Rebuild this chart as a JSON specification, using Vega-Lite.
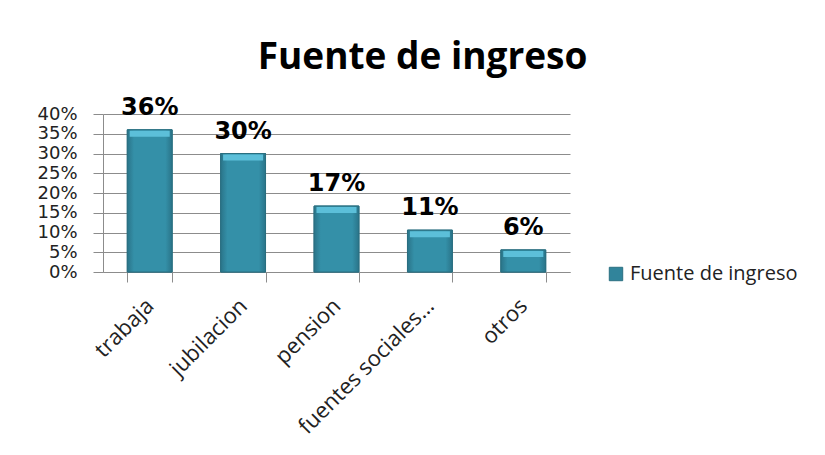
{
  "$schema": "https://vega.github.io/schema/vega-lite/v6.json",
  "width": 467,
  "height": 158,
  "autosize": {"type": "none"},
  "padding": {"left": 103, "top": 114, "right": 255, "bottom": 183},
  "background": "white",
  "title": {
    "text": "Fuente de ingreso",
    "font": "Open Sans",
    "fontSize": 37,
    "fontWeight": "bold",
    "color": "#000000",
    "anchor": "middle",
    "frame": "group",
    "dx": 86,
    "baseline": "alphabetic",
    "offset": -10
  },
  "data": {
    "values": [
      {"categoria": "trabaja", "valor": 0.36},
      {"categoria": "jubilacion", "valor": 0.30},
      {"categoria": "pension", "valor": 0.167},
      {"categoria": "fuentes sociales…", "valor": 0.106},
      {"categoria": "otros", "valor": 0.056}
    ]
  },
  "encoding": {
    "x": {
      "field": "categoria",
      "type": "nominal",
      "sort": null,
      "scale": {"paddingInner": 0.52, "paddingOuter": 0.26},
      "axis": {
        "title": null,
        "labelAngle": -45,
        "labelAlign": "right",
        "labelBaseline": "middle",
        "labelFont": "Open Sans",
        "labelFontSize": 22,
        "labelColor": "#222222",
        "labelPadding": 20,
        "tickBand": "extent",
        "tickSize": 10,
        "tickColor": "#8c8c8c",
        "domainColor": "#8c8c8c",
        "grid": false,
        "labelOverlap": false,
        "labelLimit": 300
      }
    },
    "y": {
      "field": "valor",
      "type": "quantitative",
      "scale": {"domain": [0, 0.4], "nice": false},
      "axis": {
        "title": null,
        "format": ".0%",
        "values": [0, 0.05, 0.1, 0.15, 0.2, 0.25, 0.3, 0.35, 0.4],
        "labelFont": "DejaVu Sans",
        "labelFontSize": 18,
        "labelColor": "#222222",
        "labelPadding": 16,
        "tickSize": 10,
        "tickColor": "#8c8c8c",
        "domainColor": "#8c8c8c",
        "gridColor": "#8c8c8c",
        "gridOpacity": 1
      }
    }
  },
  "layer": [
    {
      "mark": {"type": "bar", "stroke": "#2a6f80", "strokeWidth": 1},
      "encoding": {
        "color": {
          "datum": "Fuente de ingreso",
          "scale": {"range": ["#31849b"]},
          "legend": {
            "title": null,
            "orient": "none",
            "legendX": 503,
            "legendY": 150,
            "padding": 0,
            "symbolType": "square",
            "symbolSize": 180,
            "symbolStrokeColor": "#2a6f80",
            "symbolStrokeWidth": 1,
            "labelFont": "Open Sans",
            "labelFontSize": 20,
            "labelColor": "#222222",
            "labelOffset": 4,
            "labelLimit": 300
          }
        }
      }
    },
    {
      "mark": {
        "type": "bar",
        "stroke": "#2a6f80",
        "strokeWidth": 1,
        "fill": {
          "gradient": "linear",
          "x1": 0, "y1": 0, "x2": 1, "y2": 0,
          "stops": [
            {"offset": 0, "color": "#2a7489"},
            {"offset": 0.15, "color": "#3490a8"},
            {"offset": 0.85, "color": "#3490a8"},
            {"offset": 1, "color": "#2a7489"}
          ]
        }
      }
    },
    {
      "mark": {
        "type": "tick",
        "orient": "horizontal",
        "thickness": 6,
        "size": 40,
        "yOffset": 4,
        "color": "#5cbfd9",
        "opacity": 1
      }
    },
    {
      "mark": {
        "type": "text",
        "font": "DejaVu Sans",
        "fontSize": 24,
        "fontWeight": "bold",
        "color": "#000000",
        "baseline": "alphabetic",
        "dy": -15
      },
      "encoding": {
        "text": {"field": "valor", "type": "quantitative", "format": ".0%"}
      }
    }
  ],
  "config": {"view": {"stroke": null}}
}
